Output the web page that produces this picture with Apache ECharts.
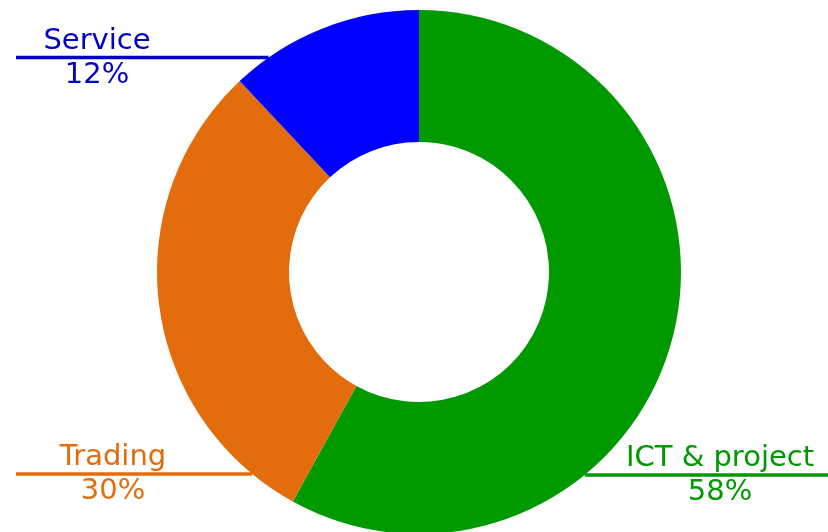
<!DOCTYPE html>
<html>
<head>
<meta charset="utf-8">
<script src="https://cdn.jsdelivr.net/npm/echarts@6/dist/echarts.min.js"></script>
<style>
  html, body { margin: 0; padding: 0; background: #fff; }
  #chart { width: 828px; height: 532px; }
</style>
</head>
<body>
<div id="chart"></div>
<script>
// data
const names = ['ICT & project', 'Trading', 'Service'];
const values = [58, 30, 12];
const sliceColors = ['#009900', '#e36c0d', '#0000ff'];
const textColors = ['#009900', '#e36c0d', '#0000cc'];

// label placement (label centre x, guide line y, outer end of line)
const labelX = [720, 113, 97];
const lineY = [475, 474, 57.5];
const lineOuterX = [828, 16, 16];

const cx = 419, cy = 272, R = 262, r = 130;

const chart = echarts.init(document.getElementById('chart'));

function pieEdgeX(i) {
  const dy = lineY[i] - cy;
  const dx = Math.sqrt(Math.max(R * R - dy * dy, 0));
  return lineOuterX[i] > cx ? cx + dx : cx - dx;
}

chart.setOption({
  animation: false,
  series: [{
    type: 'pie',
    center: [cx, cy],
    radius: [r, R],
    startAngle: 90,
    clockwise: true,
    avoidLabelOverlap: false,
    data: names.map((n, i) => ({
      name: n,
      value: values[i],
      itemStyle: { color: sliceColors[i] },
      label: { color: textColors[i] },
      labelLine: { lineStyle: { color: textColors[i], width: 3.5 } }
    })),
    label: {
      show: true,
      position: 'outside',
      fontFamily: 'DejaVu Sans',
      fontSize: 29,
      lineHeight: 34,
      formatter: p => p.name + '\n' + Math.round(p.percent) + '%'
    },
    labelLine: { show: true, length: 10, length2: 10, smooth: false },
    labelLayout: function (p) {
      const i = p.dataIndex;
      return {
        x: labelX[i],
        y: lineY[i] + 0.5,
        align: 'center',
        verticalAlign: 'middle',
        labelLinePoints: [[lineOuterX[i], lineY[i]], [pieEdgeX(i), lineY[i]], [pieEdgeX(i), lineY[i]]]
      };
    }
  }]
});
</script>
</body>
</html>
